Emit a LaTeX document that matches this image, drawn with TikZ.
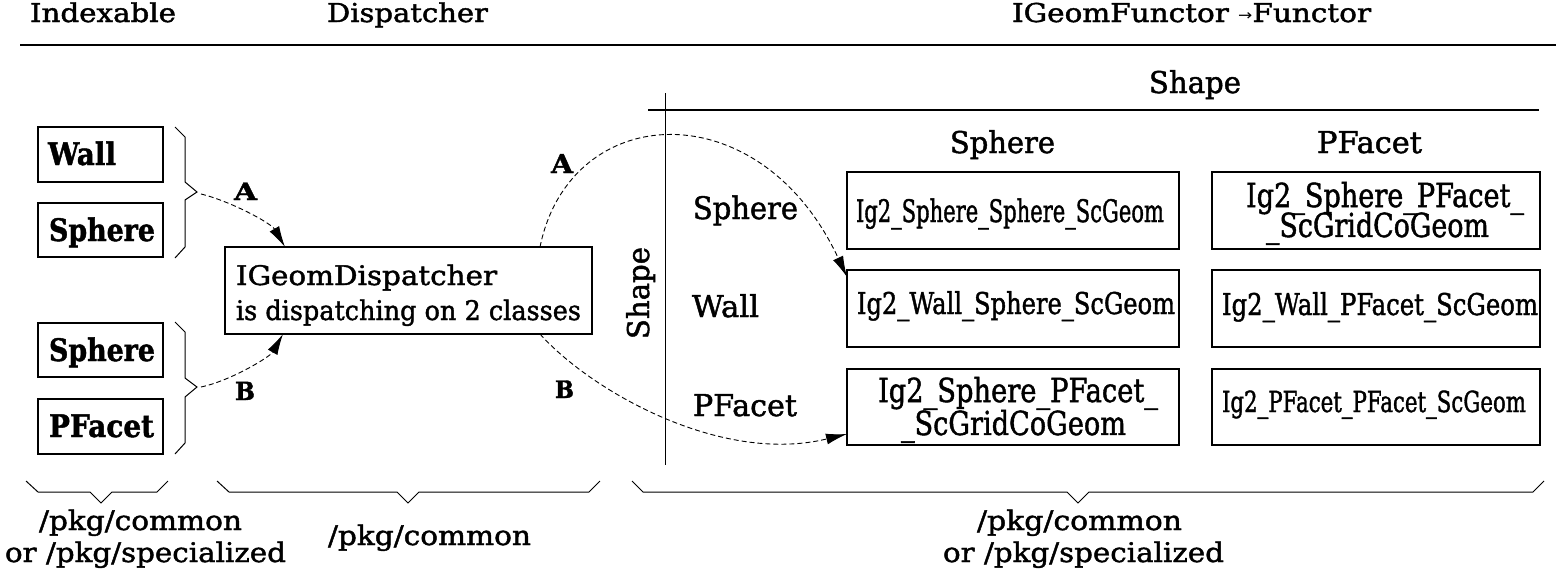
\documentclass[tikz,border=0pt]{standalone}
\usepackage{fontspec}
\setmainfont{DejaVu Serif}[FakeBold=1.5]
\newfontfamily\arrowfont{DejaVu Sans}
\usepackage{graphicx}
\usetikzlibrary{arrows.meta}
\newcommand\fitw[2]{\resizebox{#1pt}{\height}{#2}}
\newcommand\fsz[1]{\fontsize{#1pt}{#1pt}\selectfont}
\tikzset{
  txt/.style={inner sep=0pt, outer sep=0pt, anchor=base west},
  bx/.style={draw, line width=1.2pt, inner sep=0pt, outer sep=0pt},
  rulel/.style={line width=1.2pt},
  bracel/.style={line width=1pt, line join=miter},
  link/.style={line width=0.9pt, dash pattern=on 5pt off 3pt, -{Latex[length=21pt,width=11pt]}},
  lab/.style={inner sep=0pt, outer sep=0pt, anchor=base west, font=\bfseries}
}
\begin{document}
\begin{tikzpicture}[x=1pt,y=-1pt]
\useasboundingbox (0,0) rectangle (1556,587);
% headers
\node[txt] (hidx) at (30,22) {\fsz{26}\fitw{146}{Indexable}};
\node[txt] (hdis) at (327,22) {\fsz{26}\fitw{161}{Dispatcher}};
\node[txt] (hfun) at (1012,22) {\fsz{26}\fitw{359}{IGeomFunctor \raisebox{2pt}{\arrowfont\fsz{15}→}Functor}};
\draw[rulel] (20,45) -- (1556,45);
% left boxes
\node[bx, minimum width=125pt, minimum height=55pt] (wall) at (100.5,154.5) {};
\node[bx, minimum width=125pt, minimum height=54pt] (sph1) at (100.5,230) {};
\node[bx, minimum width=125pt, minimum height=54pt] (sph2) at (100.5,350) {};
\node[bx, minimum width=125pt, minimum height=55pt] (pfa) at (100.5,426.5) {};
\node[txt] (twall) at (48,165) {\fsz{31}\bfseries\fitw{68}{Wall}};
\node[txt] (tsph1) at (49,241) {\fsz{31}\bfseries\fitw{106}{Sphere}};
\node[txt] (tsph2) at (49,361) {\fsz{31}\bfseries\fitw{106}{Sphere}};
\node[txt] (tpfa) at (49,437) {\fsz{31}\bfseries\fitw{105}{PFacet}};
% braces on the left
\draw[bracel] (175,127) -- (185,137) -- (185,182) -- (197,192) -- (185,200) -- (185,247) -- (175,258);
\draw[bracel] (175,322) -- (185,332) -- (185,378) -- (197,387) -- (185,397) -- (185,443) -- (175,454);
\coordinate (b1) at (201,194);
\coordinate (b2) at (201,387);
% dispatcher
\node[bx, minimum width=367pt, minimum height=87pt] (disp) at (408.5,290.5) {};
\node[txt] (td1) at (236,285) {\fsz{27}\fitw{261}{IGeomDispatcher}};
\node[txt] (td2) at (236,320) {\fsz{27}\fitw{345}{is dispatching on 2 classes}};
% labels A B
\node[lab] (la1) at (234,200) {\fsz{24}\fitw{23}{A}};
\node[lab] (lb1) at (235,400) {\fsz{25}\fitw{20}{B}};
\node[lab] (la2) at (551,173) {\fsz{26}\fitw{22}{A}};
\node[lab] (lb2) at (555,398) {\fsz{24}\fitw{19}{B}};
% table rules
\draw[rulel] (648,110) -- (1539,110);
\draw[line width=1pt] (665,93) -- (665,465);
\node[txt] (tshape) at (1149,93) {\fsz{30}\fitw{92}{Shape}};
\node[inner sep=0pt, outer sep=0pt, anchor=base, rotate=90] (vshape) at (649,293) {\fsz{30}\fitw{92}{Shape}};
\node[txt] (csph) at (950,153) {\fsz{30}\fitw{105}{Sphere}};
\node[txt] (cpfa) at (1317,153) {\fsz{30}\fitw{105}{PFacet}};
\node[txt] (rsph) at (693,219) {\fsz{31}\fitw{105}{Sphere}};
\node[txt] (rwal) at (692,317) {\fsz{30}\fitw{67}{Wall}};
\node[txt] (rpfa) at (693,416) {\fsz{30}\fitw{104}{PFacet}};
% functor boxes
\node[bx, minimum width=332pt, minimum height=77pt] (r11) at (1013,210.5) {};
\node[bx, minimum width=332pt, minimum height=77pt] (r21) at (1013,308.5) {};
\node[bx, minimum width=332pt, minimum height=76pt] (r31) at (1013,407) {};
\node[bx, minimum width=328pt, minimum height=77pt] (r12) at (1376,210.5) {};
\node[bx, minimum width=328pt, minimum height=77pt] (r22) at (1376,308.5) {};
\node[bx, minimum width=328pt, minimum height=76pt] (r32) at (1376,407) {};
\node[txt] (t11) at (856,222) {\fsz{31}\fitw{308}{Ig2\_Sphere\_Sphere\_ScGeom}};
\node[txt] (t21) at (857,314) {\fsz{30}\fitw{318}{Ig2\_Wall\_Sphere\_ScGeom}};
\node[txt] (t31) at (878,402) {\fsz{33}\begin{tabular}[t]{@{}l@{}}\fitw{280}{Ig2\_Sphere\_PFacet\_}\\[-2pt]\hspace*{23pt}\fitw{225}{\_ScGridCoGeom}\end{tabular}};
\node[txt] (t12) at (1246,207) {\fsz{33}\begin{tabular}[t]{@{}l@{}}\fitw{278}{Ig2\_Sphere\_PFacet\_}\\[-5pt]\hspace*{20pt}\fitw{223}{\_ScGridCoGeom}\end{tabular}};
\node[txt] (t22) at (1222,315) {\fsz{30}\fitw{316}{Ig2\_Wall\_PFacet\_ScGeom}};
\node[txt] (t32) at (1222,412) {\fsz{29}\fitw{304}{Ig2\_PFacet\_PFacet\_ScGeom}};
% connectors
\draw[link] (b1) .. controls (230,201) and (271,223) .. ([xshift=60pt]disp.north west);
\draw[link] (b2) .. controls (230,381) and (270,357) .. ([xshift=58pt]disp.south west);
\draw[link] ([xshift=-52pt]disp.north east) .. controls (570,100) and (760,90) .. ([yshift=-7pt]r21.north west);
\draw[link] ([xshift=-52pt]disp.south east) .. controls (590,390) and (720,465) .. ([yshift=11pt]r31.south west);
% bottom braces
\draw[bracel] (26,481) -- (38,492) -- (90,492) -- (101,503) -- (112,492) -- (157,492) -- (168,481);
\draw[bracel] (217,481) -- (229,492) -- (397,492) -- (408,503) -- (419,492) -- (589,492) -- (600,481);
\draw[bracel] (632,481) -- (643,492) -- (1067,492) -- (1078,503) -- (1089,492) -- (1533,492) -- (1544,481);
\node[txt] (p1a) at (39,530) {\fsz{27}\fitw{203}{/pkg/common}};
\node[txt] (p1b) at (5,562) {\fsz{27}\fitw{281}{or /pkg/specialized}};
\node[txt] (p2) at (328,545) {\fsz{27}\fitw{203}{/pkg/common}};
\node[txt] (p3a) at (977,530) {\fsz{27}\fitw{205}{/pkg/common}};
\node[txt] (p3b) at (943,562) {\fsz{27}\fitw{281}{or /pkg/specialized}};
\end{tikzpicture}
\end{document}
